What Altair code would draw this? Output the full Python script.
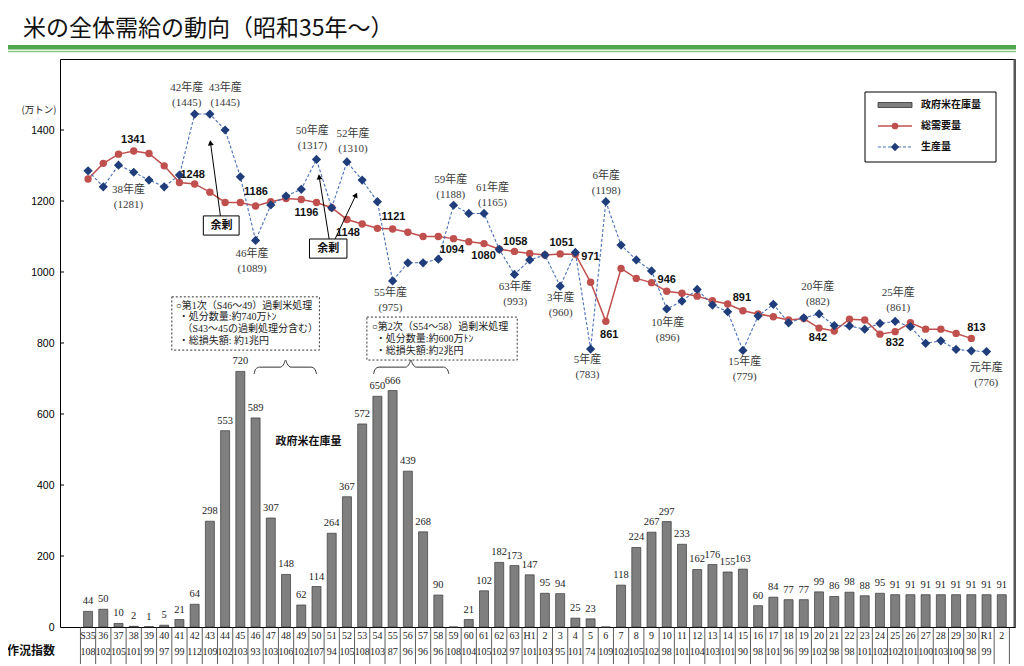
import math
import altair as alt
import pandas as pd

# ---------------- data ----------------
year_labels = ["S35", "36", "37", "38", "39", "40", "41", "42", "43", "44", "45", "46", "47", "48",
               "49", "50", "51", "52", "53", "54", "55", "56", "57", "58", "59", "60", "61", "62",
               "63", "H1", "2", "3", "4", "5", "6", "7", "8", "9", "10", "11", "12", "13", "14",
               "15", "16", "17", "18", "19", "20", "21", "22", "23", "24", "25", "26", "27", "28",
               "29", "30", "R1", "2"]

# 政府米在庫量 (S35 .. R2)
stock = [44, 50, 10, 2, 1, 5, 21, 64, 298, 553, 720, 589, 307, 148, 62, 114, 264, 367, 572, 650,
         666, 439, 268, 90, 0, 21, 102, 182, 173,
         147, 95, 94, 25, 23, 0, 118, 224, 267, 297, 233, 162, 176, 155, 163, 60, 84, 77, 77, 99,
         86, 98, 88, 95, 91, 91, 91, 91, 91, 91, 91, 91]

# 総需要量 (S35 .. H30)
demand = [1262, 1306, 1332, 1341, 1334, 1299, 1252, 1248, 1225, 1196, 1196, 1186, 1198, 1207,
          1204, 1196, 1181, 1148, 1135, 1123, 1121, 1112, 1100, 1100, 1094, 1085, 1080, 1064, 1058,
          1052, 1048, 1051, 1050, 971, 861, 1010, 982, 970, 946, 940, 932, 919, 910, 891, 882,
          874, 865, 869, 842, 834, 867, 865, 825, 832, 857, 839, 839, 827, 813]

# 生産量 (S35 .. R1)
production = [1285, 1240, 1301, 1281, 1259, 1240, 1273, 1445, 1445, 1400, 1268, 1089, 1189, 1214,
              1233, 1317, 1181, 1310, 1259, 1198, 975, 1026, 1026, 1036, 1188, 1165, 1165, 1064, 993,
              1034, 1048, 960, 1055, 783, 1198, 1076, 1034, 1003, 896, 918, 951, 907, 888, 779, 876,
              909, 857, 871, 882, 849, 848, 839, 855, 861, 846, 799, 806, 782, 778, 776]

# 作況指数 (S35 .. R1; R2 blank)
crop_index = [108, 102, 105, 101, 99, 97, 99, 112, 109, 102, 103, 93, 103, 106, 102, 107, 94, 105,
              108, 103, 87, 96, 96, 96, 108, 104, 105, 102, 97,
              101, 103, 95, 101, 74, 109, 102, 105, 102, 98, 101, 104, 103, 101, 90, 98, 101, 96,
              99, 102, 98, 98, 101, 102, 102, 101, 100, 103, 100, 98, 99, None]

# labelled demand values: year index, label anchor (x index, y value)
demand_label_years = [3, 7, 11, 15, 17, 20, 24, 26, 28, 31, 33, 34, 38, 43, 48, 53, 58]
demand_label_x = [2.97, 6.87, 11.03, 14.34, 17.07, 20.06, 23.89, 25.97, 28.05, 31.1, 32.99, 34.22,
                  38.0, 42.93, 47.93, 52.99, 58.33]
demand_label_y = [1372, 1273, 1225, 1166, 1110, 1155, 1062, 1045, 1085, 1082, 1042, 823, 977, 927,
                  814, 800, 842]

# labelled production values
prod_label_years = [3, 7, 8, 11, 15, 17, 20, 24, 26, 28, 31, 34, 33, 38, 43, 48, 53, 59]
prod_label_names = ["38年産", "42年産", "43年産", "46年産", "50年産", "52年産", "55年産", "59年産",
                    "61年産", "63年産", "3年産", "6年産", "5年産", "10年産", "15年産", "20年産",
                    "25年産", "元年産"]
prod_label_x = [2.65, 6.48, 9.01, 10.77, 14.73, 17.39, 19.86, 23.82, 26.55, 28.05, 31.04, 34.03,
                32.79, 38.06, 43.12, 47.92, 53.2, 58.98]
prod_label_y = [1231, 1518, 1518, 1051, 1397, 1389, 941, 1259, 1237, 958, 927, 1270, 752, 856, 746,
                958, 941, 730]

# 余剰 boxes and arrows (data coordinates)
surplus_box_x = [7.57, 14.54]
surplus_box_x2 = [9.92, 17.0]
surplus_box_y = [1104, 1039]
surplus_box_y2 = [1158, 1093]
surplus_text_x = [8.76, 15.77]
surplus_text_y = [1130, 1065]
arrow_x = [8.69, 15.83, 16.22]
arrow_y = [1158, 1093, 1093]
arrow_x2 = [8.04, 15.18, 17.59]
arrow_y2 = [1364, 1268, 1217]

# disposal note boxes
note_box_x = [5.50, 18.31]
note_box_x2 = [15.19, 28.18]
note_box_y = [780, 752]
note_box_y2 = [930, 873]
note_lines = ["○第1次（S46～49）過剰米処理", "・処分数量:約740万ﾄﾝ", "（S43～45の過剰処理分含む）",
              "・総損失額: 約1兆円",
              "○第2次（S54～58）過剰米処理", "・処分数量:約600万ﾄﾝ", "・総損失額:約2兆円"]
note_x = [5.76, 5.96, 6.2, 5.96, 18.63, 18.89, 18.89]
note_y = [904, 872, 839, 807, 845, 811, 777]

# braces under the note boxes: start, end, tip (x index)
brace_start = [10.9, 18.75]
brace_end = [15.0, 23.69]
brace_tip = [12.97, 21.2]

W, H = 955, 568
PX_X = 15.39      # pixels per year step
PX_Y = H / 1600.0  # pixels per unit

xs = alt.Scale(domain=[-1.514, 60.54], nice=False, zero=False)
ys = alt.Scale(domain=[0, 1600], nice=False, zero=False)
yaxis = alt.Axis(values=[0, 200, 400, 600, 800, 1000, 1200, 1400], format="d", title=None,
                 domain=False, ticks=False, grid=False, labelFont="Liberation Sans",
                 labelFontSize=10.5, labelColor="#000000", labelPadding=6)


def X(f):
    return alt.X(f, type="quantitative", scale=xs, axis=None)


def Y(f):
    return alt.Y(f, type="quantitative", scale=ys, axis=yaxis)


SERIF = "Liberation Serif, Noto Sans CJK JP"
JP = "Noto Sans CJK JP"
SANS = "Liberation Sans"

one = pd.DataFrame({"a": [0]})

n = len(year_labels)
df_bar = pd.DataFrame({"x": list(range(n)), "y": stock,
                       "label": [str(v) if v > 0 else "" for v in stock]})
df_dem = pd.DataFrame({"x": list(range(len(demand))), "y": demand})
df_prod = pd.DataFrame({"x": list(range(len(production))), "y": production})

bars = alt.Chart(df_bar).mark_bar(size=9, color="#7f7f7f", stroke="#3a3a3a", strokeWidth=0.7,
                                  orient="vertical").encode(x=X("x"), y=Y("y"))
bar_labels = alt.Chart(df_bar).mark_text(dy=-10, baseline="middle", font=SERIF, fontSize=10.5,
                                         color="#222222").encode(x=X("x"), y=Y("y"), text="label")

dem_line = alt.Chart(df_dem).mark_line(color="#c0504d", strokeWidth=1.5).encode(x=X("x"), y=Y("y"))
dem_pts = alt.Chart(df_dem).mark_point(shape="circle", filled=True, size=55, color="#c0504d",
                                       opacity=1).encode(x=X("x"), y=Y("y"))
prod_line = alt.Chart(df_prod).mark_line(color="#4a70b8", strokeWidth=1.1, strokeDash=[3, 2]).encode(
    x=X("x"), y=Y("y"))
prod_pts = alt.Chart(df_prod).mark_point(shape="diamond", filled=True, size=85, color="#1f3d7a",
                                         opacity=1).encode(x=X("x"), y=Y("y"))

df_dl = pd.DataFrame({"x": demand_label_x, "y": demand_label_y,
                      "t": [str(demand[i]) for i in demand_label_years]})
dem_labels = alt.Chart(df_dl).mark_text(font=SANS, fontWeight="bold", fontSize=11,
                                        color="#111111", baseline="middle").encode(
    x=X("x"), y=Y("y"), text="t")

df_pl = pd.DataFrame({"x": prod_label_x, "y": prod_label_y, "n": prod_label_names,
                      "v": ["(" + str(production[i]) + ")" for i in prod_label_years]})
prod_labels1 = alt.Chart(df_pl).mark_text(font=SERIF, fontSize=11, color="#3a3a3a",
                                          baseline="middle").encode(x=X("x"), y=Y("y"), text="n")
prod_labels2 = alt.Chart(df_pl).mark_text(font=SERIF, fontSize=11, color="#3a3a3a",
                                          baseline="middle", dy=15).encode(x=X("x"), y=Y("y"), text="v")

# y ticks (inward)
df_ticks = pd.DataFrame({"y": [200, 400, 600, 800, 1000, 1200, 1400]})
yticks = alt.Chart(df_ticks).mark_rule(color="#000000", strokeWidth=1).encode(
    y=Y("y"), x=alt.value(0), x2=alt.value(4))

right_border = alt.Chart(one).mark_rule(color="#555555", strokeWidth=3).encode(
    x=alt.value(W), y=alt.value(0), y2=alt.value(H))

# x table
df_tab = pd.DataFrame({"x": list(range(n)), "yl": year_labels,
                       "ci": [str(c) if c is not None else "" for c in crop_index]})
tab1 = alt.Chart(df_tab).mark_text(font=SERIF, fontSize=10, color="#222222", baseline="middle").encode(
    x=X("x"), y=alt.value(H + 9), text="yl")
tab2 = alt.Chart(df_tab).mark_text(font=SERIF, fontSize=10, color="#222222", baseline="middle").encode(
    x=X("x"), y=alt.value(H + 25), text="ci")
df_sep = pd.DataFrame({"x": [i - 0.5 for i in range(n + 1)]})
seps = alt.Chart(df_sep).mark_rule(color="#333333", strokeWidth=0.8).encode(
    x=X("x"), y=alt.value(H), y2=alt.value(H + 40))
ci_title = alt.Chart(one).mark_text(text="作況指数", font=JP, fontWeight="bold", fontSize=12,
                                    color="#111111", baseline="middle").encode(
    x=alt.value(-29), y=alt.value(H + 24))

# title and header lines
title = alt.Chart(one).mark_text(text="米の全体需給の動向（昭和35年～）", font=JP, fontSize=23,
                                 color="#111111", align="left", baseline="middle").encode(
    x=alt.value(-37), y=alt.value(-30))
green1 = alt.Chart(one).mark_rule(color="#4fa84f", strokeWidth=4.5).encode(
    x=alt.value(-52), x2=alt.value(W + 1), y=alt.value(-11.8))
green2 = alt.Chart(one).mark_rule(color="#86c986", strokeWidth=1.5).encode(
    x=alt.value(-52), x2=alt.value(W + 1), y=alt.value(-7.5))
unit = alt.Chart(one).mark_text(text="(万トン)", font=JP, fontSize=9.5, color="#222222",
                                baseline="middle").encode(x=alt.value(-21), y=alt.value(51))

# legend (manual)
leg_box = alt.Chart(one).mark_rect(fill="white", stroke="#000000", strokeWidth=1).encode(
    x=alt.value(805), x2=alt.value(936), y=alt.value(33), y2=alt.value(103))
leg_bar = alt.Chart(one).mark_rect(fill="#7f7f7f", stroke="#333333", strokeWidth=0.8).encode(
    x=alt.value(818), x2=alt.value(852), y=alt.value(43.5), y2=alt.value(48.5))
leg_red = alt.Chart(one).mark_rule(color="#c0504d", strokeWidth=1.5).encode(
    x=alt.value(818), x2=alt.value(852), y=alt.value(67))
leg_red_pt = alt.Chart(one).mark_point(shape="circle", filled=True, size=45, color="#c0504d",
                                       opacity=1).encode(x=alt.value(835), y=alt.value(67))
leg_blue = alt.Chart(one).mark_rule(color="#4a70b8", strokeWidth=1.1, strokeDash=[3, 2]).encode(
    x=alt.value(818), x2=alt.value(852), y=alt.value(88))
leg_blue_pt = alt.Chart(one).mark_point(shape="diamond", filled=True, size=70, color="#1f3d7a",
                                        opacity=1).encode(x=alt.value(835), y=alt.value(88))
df_legt = pd.DataFrame({"t": ["政府米在庫量", "総需要量", "生産量"], "yy": [46, 67, 88]})
leg_text = alt.Chart(df_legt).mark_text(font=JP, fontWeight="bold", fontSize=10, color="#111111",
                                        align="left", baseline="middle").encode(
    x=alt.value(861), y=alt.Y("yy:Q", scale=None), text="t")

# 余剰 annotations
df_sb = pd.DataFrame({"x": surplus_box_x, "x2": surplus_box_x2, "y": surplus_box_y,
                      "y2": surplus_box_y2, "tx": surplus_text_x, "ty": surplus_text_y})
sb_rect = alt.Chart(df_sb).mark_rect(fill="white", stroke="#000000", strokeWidth=1).encode(
    x=X("x"), x2="x2", y=Y("y"), y2="y2")
sb_text = alt.Chart(df_sb).mark_text(text="余剰", font=JP, fontWeight="bold", fontSize=11,
                                     color="#111111", baseline="middle").encode(x=X("tx"), y=Y("ty"))
angles = []
for a, b, c, d in zip(arrow_x, arrow_y, arrow_x2, arrow_y2):
    dxp = (c - a) * PX_X
    dyp = (d - b) * PX_Y
    angles.append(math.degrees(math.atan2(dxp, dyp)) % 360)
df_ar = pd.DataFrame({"x": arrow_x, "y": arrow_y, "x2": arrow_x2, "y2": arrow_y2, "ang": angles})
ar_line = alt.Chart(df_ar).mark_rule(color="#000000", strokeWidth=1).encode(
    x=X("x"), y=Y("y"), x2="x2", y2="y2")
ar_head = alt.Chart(df_ar).mark_point(shape="triangle-up", filled=True, size=35, color="#000000",
                                      opacity=1).encode(x=X("x2"), y=Y("y2"),
                                                        angle=alt.Angle("ang:Q", scale=None))

# disposal notes
df_nb = pd.DataFrame({"x": note_box_x, "x2": note_box_x2, "y": note_box_y, "y2": note_box_y2})
nb_rect = alt.Chart(df_nb).mark_rect(fill="white", stroke="#333333", strokeWidth=1,
                                     strokeDash=[2, 2]).encode(x=X("x"), x2="x2", y=Y("y"), y2="y2")
df_nt = pd.DataFrame({"x": note_x, "y": note_y, "t": note_lines})
nb_text = alt.Chart(df_nt).mark_text(font=SERIF, fontSize=10, color="#222222", align="left",
                                     baseline="middle").encode(x=X("x"), y=Y("y"), text="t")

stock_title = alt.Chart(one).mark_text(text="政府米在庫量", font=JP, fontWeight="bold", fontSize=11,
                                       color="#111111", baseline="middle").encode(
    x=alt.X("datum_x:Q", scale=xs, axis=None), y=alt.Y("datum_y:Q", scale=ys, axis=yaxis)
).transform_calculate(datum_x="14.47", datum_y="521")

# braces
rows = []
E, M, T = 713, 732, 752
for g, (a, b, m) in enumerate(zip(brace_start, brace_end, brace_tip)):
    pts = [(a, E), (a + 0.1, E + 13), (a + 0.35, M), (m - 0.35, M), (m - 0.1, M + 10), (m, T),
           (m + 0.1, M + 10), (m + 0.35, M), (b - 0.35, M), (b - 0.1, E + 13), (b, E)]
    for px, py in pts:
        rows.append({"g": g, "x": px, "y": py})
df_br = pd.DataFrame(rows)
braces = alt.Chart(df_br).mark_line(interpolate="monotone", color="#333333", strokeWidth=1).encode(
    x=X("x"), y=Y("y"), detail="g:N")

chart = alt.layer(
    green1, green2, title, unit,
    bars, bar_labels, stock_title,
    nb_rect, nb_text, braces,
    dem_line, dem_pts, prod_line, prod_pts,
    ar_line, ar_head, sb_rect, sb_text,
    dem_labels, prod_labels1, prod_labels2,
    yticks, right_border,
    seps, tab1, tab2, ci_title,
    leg_box, leg_bar, leg_red, leg_red_pt, leg_blue, leg_blue_pt, leg_text,
).properties(
    width=W, height=H,
    padding={"left": 52, "top": 51, "right": 1, "bottom": 37},
    autosize=alt.AutoSizeParams(type="none"),
).configure_view(stroke="#000000", strokeWidth=1)

chart.save("out.html", embed_options={"renderer": "svg", "actions": False})
